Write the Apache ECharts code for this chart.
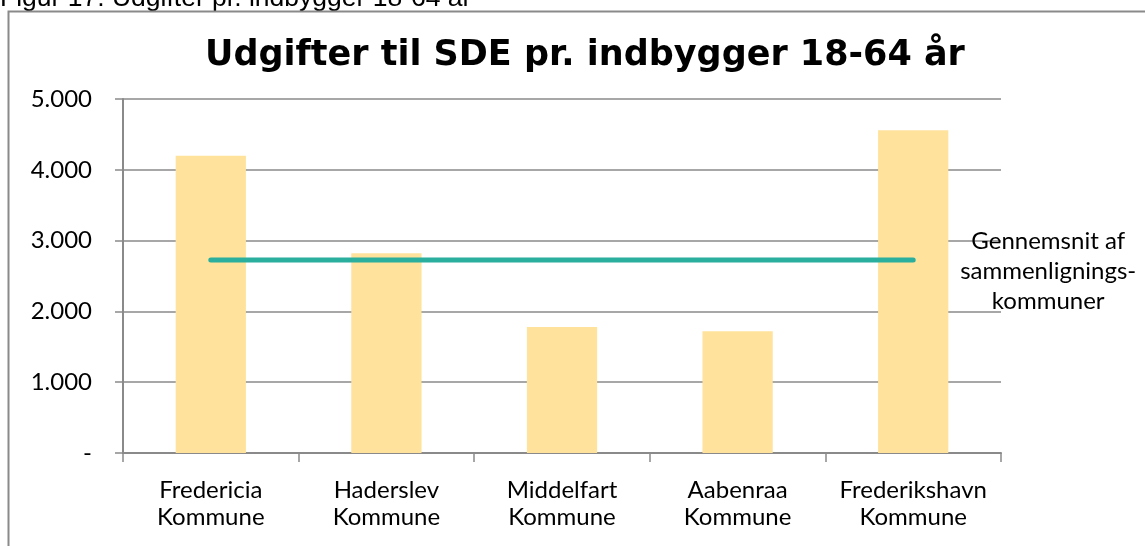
<!doctype html>
<html>
<head>
<meta charset="utf-8">
<title>Udgifter til SDE pr. indbygger 18-64 år</title>
<script src="https://cdn.jsdelivr.net/npm/echarts@6/dist/echarts.min.js"></script>
<style>
    body{margin: 0;}
    #main{width: 1145px;height: 546px;}
</style>
</head>
<body>
<div id="main"></div>
<script>
    // data
    var kommuner = ["Fredericia\nKommune", "Haderslev\nKommune", "Middelfart\nKommune", "Aabenraa\nKommune", "Frederikshavn\nKommune"];
    var udgifter = [4200, 2820, 1780, 1720, 4560];
    var gennemsnit = [2725, 2725, 2725, 2725, 2725];
    var yTicks = [0, 1000, 2000, 3000, 4000, 5000];

    var font = "Lato, 'Open Sans', sans-serif";

    function fmt(v){
        if (v === 0) return "-";
        return String(v).replace(/\B(?=(\d{3})+(?!\d))/g, ".");
    }

    var myChart = echarts.init(document.getElementById("main"));
    var option = {
        animation: false,
        backgroundColor: '#fff',
        title: {
            text: 'Udgifter til SDE pr. indbygger 18-64 år',
            left: 200,
            top: 33,
            textStyle: {fontFamily: "'DejaVu Sans', sans-serif", fontSize: 35, fontWeight: 'bold', color: '#000'}
        },
        graphic: [
            // caption of the figure, cut off at the top
            {type: 'text', left: 0, top: -15, style: {text: 'Figur 17. Udgifter pr. indbygger 18-64 år', font: "26.5px 'Liberation Sans', Arial, sans-serif", fill: '#000'}},
            // frame round the chart
            {type: 'rect', shape: {x: 8.5, y: 11.5, width: 1160, height: 560}, style: {fill: 'none', stroke: '#8a8a8a', lineWidth: 2}}
        ],
        grid: {left: 123, right: 144, top: 99, bottom: 93},
        xAxis: {
            type: 'category',
            data: kommuner,
            axisLine: {lineStyle: {color: '#8a8a8a', width: 2}},
            axisTick: {show: true, length: 9, lineStyle: {color: '#8a8a8a', width: 1.5}},
            axisLabel: {color: '#000', fontFamily: font, fontSize: 24, lineHeight: 27, margin: 24, interval: 0, hideOverlap: false}
        },
        yAxis: {
            type: 'value',
            min: yTicks[0],
            max: yTicks[yTicks.length - 1],
            interval: 1000,
            axisLine: {show: true, lineStyle: {color: '#8a8a8a', width: 2}},
            axisTick: {show: true, length: 8, lineStyle: {color: '#8a8a8a', width: 1.5}},
            splitLine: {lineStyle: {color: '#8a8a8a', width: 1.5}},
            axisLabel: {color: '#000', fontFamily: font, fontSize: 24, margin: 31, formatter: fmt}
        },
        series: [{
            name: 'Udgifter',
            type: 'bar',
            data: udgifter,
            barWidth: '40%',
            itemStyle: {color: '#FFE29B'}
        }, {
            name: 'Gennemsnit af sammenlignings-kommuner',
            type: 'line',
            data: gennemsnit,
            symbol: 'none',
            lineStyle: {color: '#2AAE9D', width: 5, cap: 'round'},
            endLabel: {
                show: true,
                formatter: 'Gennemsnit af\nsammenlignings-\nkommuner',
                align: 'center',
                offset: [127, 11],
                color: '#000',
                fontFamily: font,
                fontSize: 24,
                lineHeight: 30
            }
        }]
    };
    myChart.setOption(option);
</script>
</body>
</html>
